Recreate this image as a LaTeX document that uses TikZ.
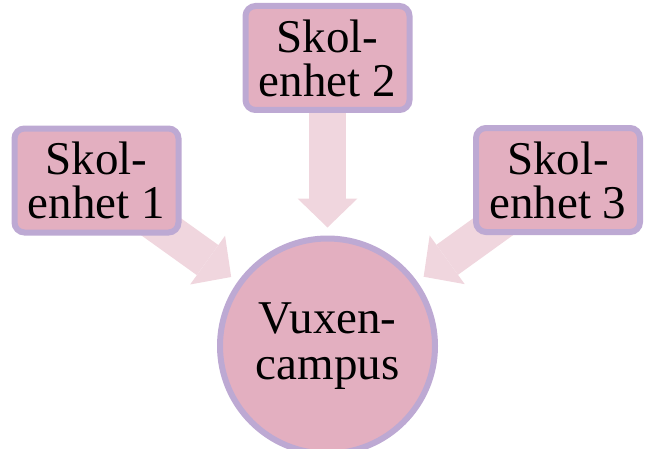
\documentclass[tikz,border=0pt]{standalone}
\usepackage{fontspec}
\setmainfont{Liberation Serif}
\usepackage{tikz}
\usetikzlibrary{arrows.meta,backgrounds}

\definecolor{unitfill}{RGB}{227,175,192}
\definecolor{unitline}{RGB}{189,169,211}
\definecolor{flowfill}{RGB}{240,214,222}

\tikzset{
  unitbox/.style={draw=unitline,fill=unitfill,line width=6pt,rounded corners=10pt,
    minimum width=164pt,minimum height=104pt,inner sep=0pt,align=center,
    font=\fontsize{47}{44}\selectfont},
  campusnode/.style={circle,draw=unitline,fill=unitfill,line width=6pt,
    minimum size=215pt,inner sep=0pt,align=center,font=\fontsize{47}{46}\selectfont},
  flow/.style={draw=flowfill,line width=37pt,shorten >=8pt,
    -{Triangle[width=60pt,length=29pt,line width=0pt]}}
}

\begin{document}
\begin{tikzpicture}[x=1pt,y=1pt]
\useasboundingbox (0,0) rectangle (647,448);

% Central circle
\node[campusnode] (campus) at (327.5,102) {Vuxen-\\campus};

% School units
\node[unitbox] (unit1) at (96.5,267.5) {Skol-\\enhet 1};
\node[unitbox] (unit2) at (327.5,390) {Skol-\\enhet 2};
\node[unitbox] (unit3) at (558,268) {Skol-\\enhet 3};

% Block arrows behind the boxes
\begin{scope}[on background layer]
\draw[flow] (unit1.center) -- (campus);
\draw[flow] (unit2.center) -- (campus);
\draw[flow] (unit3.center) -- (campus);
\end{scope}
\end{tikzpicture}
\end{document}
